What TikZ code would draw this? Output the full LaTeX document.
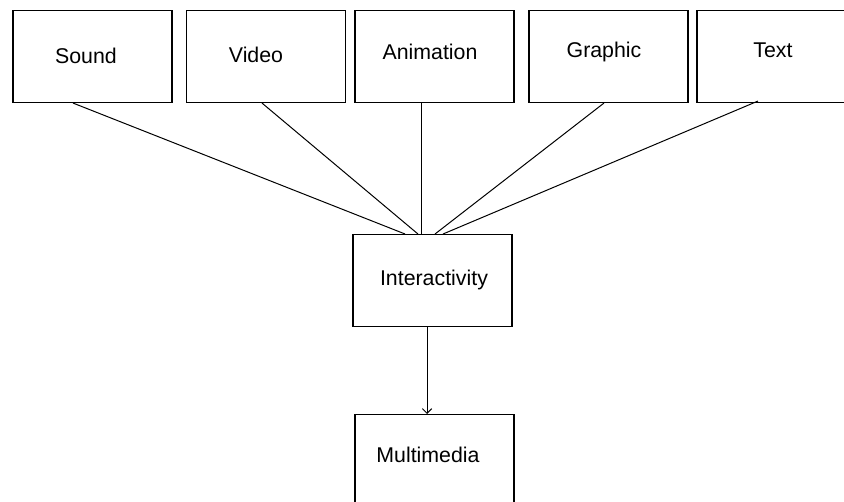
\documentclass[tikz,border=0pt]{standalone}
\usepackage{fontspec}
\setmainfont{Liberation Sans}
\usetikzlibrary{arrows.meta}
\begin{document}
\begin{tikzpicture}[x=0.75pt,y=-0.75pt,
  box/.style={draw, line width=0.8pt, inner sep=0pt, anchor=north,
    minimum width=119.25pt, font=\fontsize{16}{19}\selectfont},
  base/.style={text height=#1, text depth=69pt-#1},
  link/.style={line width=0.75pt},
  flow/.style={line width=0.75pt, -{Straight Barb[length=3.5pt,width=7pt]}}]
\useasboundingbox (0,0) rectangle (844,502);
\fill[white] (0,0) rectangle (844,502);
\node[box, base=39.75pt] (snd) at (92.5,10) {\hspace*{-9.75pt}Sound};
\node[box, base=39pt] (vid) at (266,10) {\hspace*{-15pt}Video};
\node[box, base=36.75pt] (ani) at (434.5,10) {\hspace*{-6.75pt}Animation};
\node[box, base=35.25pt] (gra) at (608.5,10) {\hspace*{-6.75pt}Graphic};
\node[box, base=35.25pt] (txt) at (776.5,10) {\hspace*{-5.25pt}Text};
\node[box, base=38.25pt] (int) at (432.5,234) {\hspace*{2.25pt}Interactivity};
\node[box, base=36pt] (mm) at (434.5,414) {\hspace*{-9.75pt}Multimedia};
\draw[link] ([xshift=-14.6pt]snd.south) -- ([xshift=-20.6pt]int.north);
\draw[link] ([xshift=-3pt]vid.south) -- ([xshift=-10.9pt]int.north);
\draw[link] ([xshift=-9.4pt]ani.south) -- ([xshift=-7.9pt]int.north);
\draw[link] ([xshift=-3.4pt]gra.south) -- ([xshift=1.9pt]int.north);
\draw[link] ([xshift=-13.9pt,yshift=1.5pt]txt.south) -- ([xshift=7.9pt]int.north);
\draw[flow] ([xshift=-4.1pt]int.south) -- ([xshift=-5.6pt]mm.north);
\end{tikzpicture}
\end{document}
